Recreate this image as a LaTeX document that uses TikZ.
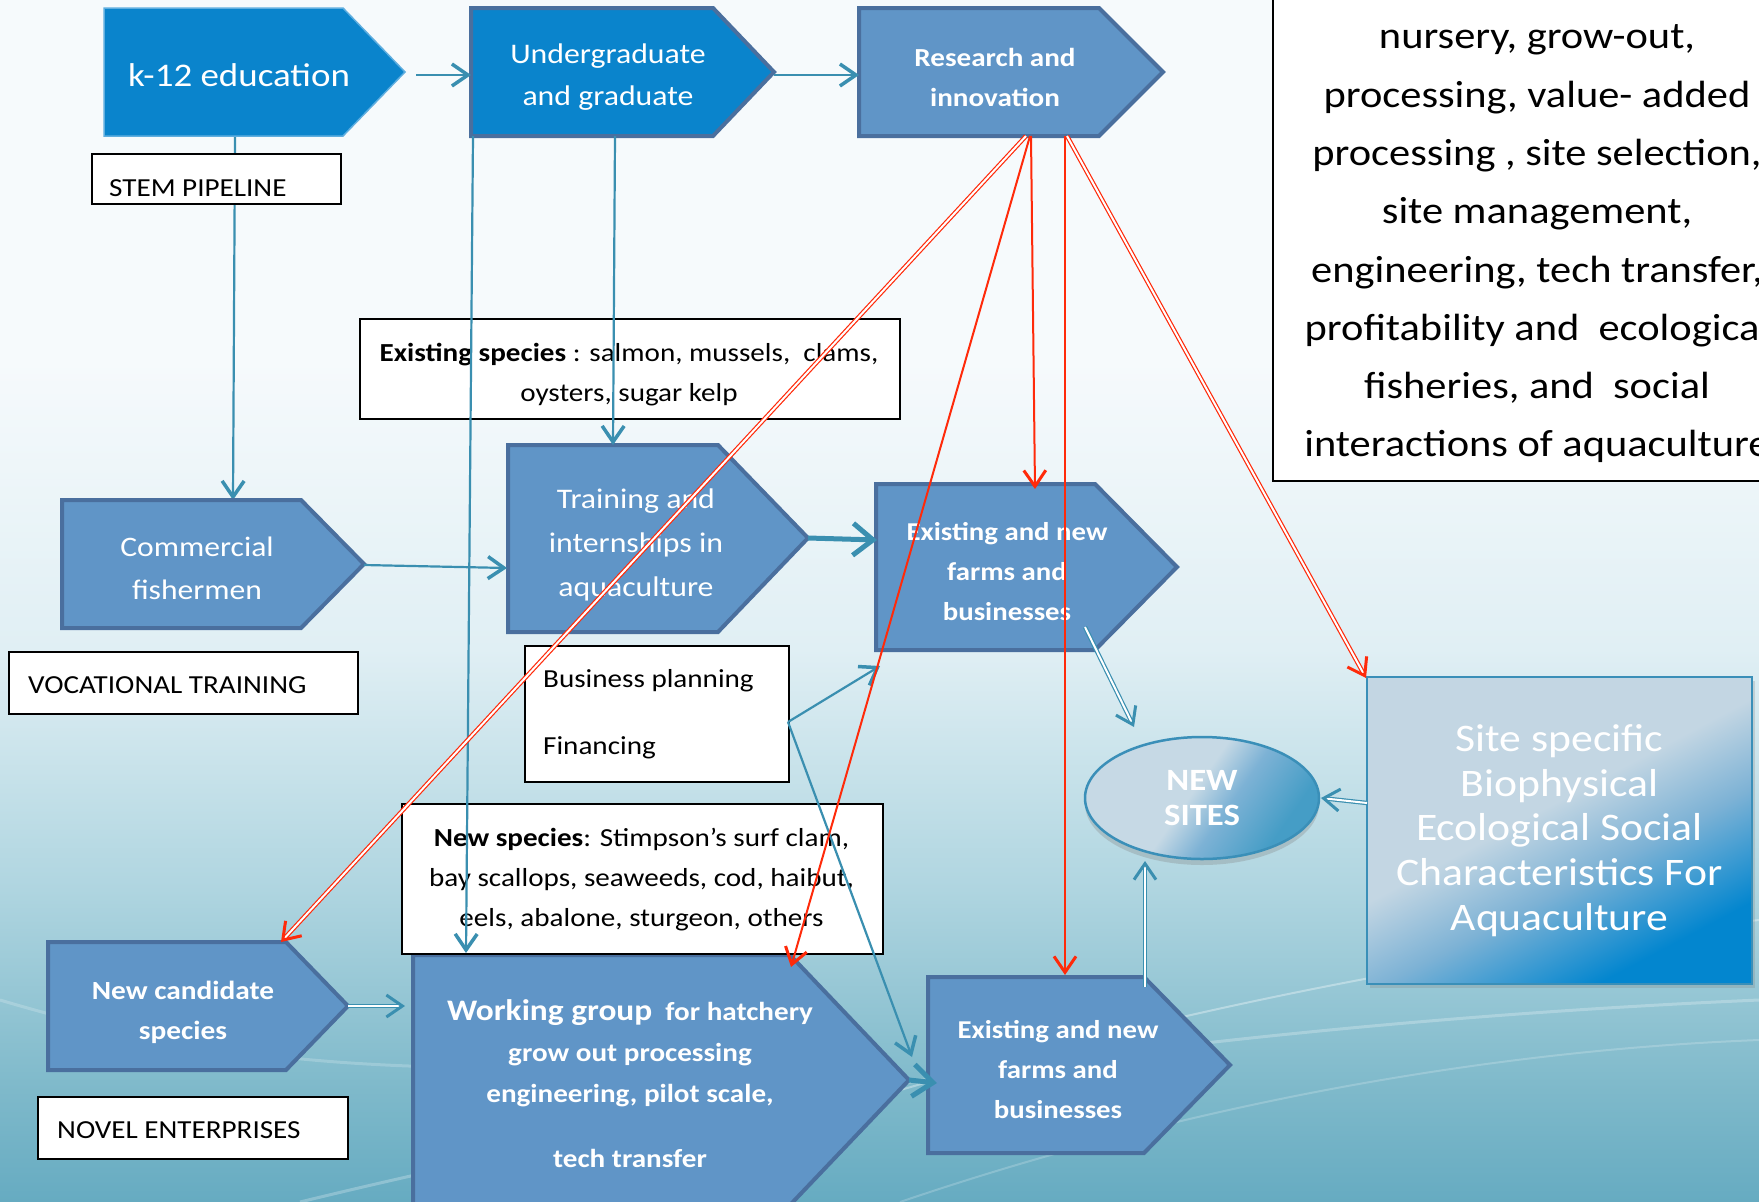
\documentclass[tikz,border=0pt]{standalone}
\usepackage{fontspec}
\setmainfont{Carlito}[FakeStretch=1.12]
\usetikzlibrary{arrows.meta,shadows,shapes.geometric}
\definecolor{kblue}{HTML}{0A84CC}
\definecolor{kedge}{HTML}{5FAEDF}
\definecolor{mblue}{HTML}{6095C7}
\definecolor{eblue}{HTML}{4A6F9E}
\definecolor{lnteal}{HTML}{3A8FB0}
\definecolor{lnred}{HTML}{FF2A0A}
\definecolor{bgA}{HTML}{F6FAFC}
\definecolor{bgB}{HTML}{E0EFF4}
\definecolor{bgC}{HTML}{AFD5E0}
\definecolor{bgC2}{HTML}{80BACB}
\definecolor{bgD}{HTML}{66ABC1}
\definecolor{siteL}{HTML}{C3D6E3}
\definecolor{siteM}{HTML}{7DB2D5}
\definecolor{siteR}{HTML}{0386CF}
\definecolor{ellL}{HTML}{C6D9E5}
\definecolor{ellR}{HTML}{459DC6}
\definecolor{ellE}{HTML}{3A8FB8}
\pgfdeclareverticalshading{bgshade}{100bp}{color(0bp)=(bgD); color(25bp)=(bgD); color(30bp)=(bgC2); color(38bp)=(bgC); color(48bp)=(bgB); color(60bp)=(bgA); color(100bp)=(bgA)}
\pgfdeclarehorizontalshading{sitegrad}{100bp}{color(0bp)=(siteL); color(46bp)=(siteL); color(58bp)=(siteM); color(73bp)=(siteR); color(100bp)=(siteR)}
\pgfdeclarehorizontalshading{ellgrad}{100bp}{color(0bp)=(ellL); color(47bp)=(ellL); color(57bp)=(siteM); color(72bp)=(ellR); color(100bp)=(ellR)}
\begin{document}
\begin{tikzpicture}[x=1pt,y=-1pt,
  plateK/.style={fill=kblue, draw=kedge, line width=1.5pt, line join=miter},
  plateU/.style={fill=kblue, draw=eblue, line width=4pt, line join=miter},
  plateM/.style={fill=mblue, draw=eblue, line width=4pt, line join=miter},
  wbox/.style={fill=white, draw=black, line width=2pt, inner sep=0pt, anchor=north west},
  ptxt/.style={text=white, align=center, inner sep=0pt},
  ltxt/.style={text=black, inner sep=0pt, anchor=west, font=\fontsize{26}{30}\selectfont},
  ctxt/.style={text=black, align=center, inner sep=0pt, font=\fontsize{26}{40}\selectfont},
  tarrow/.style={draw=lnteal, line width=2.2pt, -{Straight Barb[length=16pt,width=22pt,line width=3.5pt]}},
  tbig/.style={draw=lnteal, line width=5pt, -{Straight Barb[length=20pt,width=32pt,line width=5pt]}},
  tdouble/.style={draw=lnteal, double=white, double distance=2pt, line width=1.2pt, -{Straight Barb[length=16pt,width=22pt,line width=3pt]}},
  rarrow/.style={draw=lnred, line width=2pt, -{Straight Barb[length=16pt,width=22pt,line width=3pt]}},
  rdouble/.style={draw=lnred, double=white, double distance=2pt, line width=1.2pt, -{Straight Barb[length=16pt,width=22pt,line width=3pt]}}
]
\useasboundingbox (0,0) rectangle (1759,1202);
\begin{scope}
\clip (0,0) rectangle (1759,1202);
% background
\shade[shading=bgshade] (0,0) rectangle (1759,1202);
\draw[white, opacity=0.35, line width=2pt] (560,1202) .. controls (1000,1040) and (1400,960) .. (1759,920);
\draw[white, opacity=0.25, line width=3pt] (300,1202) .. controls (800,1080) and (1300,1020) .. (1759,1000);
\draw[white, opacity=0.2, line width=2pt] (900,1202) .. controls (1200,1100) and (1500,1050) .. (1759,1040);
\draw[white, opacity=0.2, line width=3pt] (0,1000) .. controls (200,1060) and (400,1080) .. (700,1060);

% connection points
\coordinate (k12-r) at (416,75);
\coordinate (ug-l) at (471,75);
\coordinate (ug-r) at (774,75);
\coordinate (rni-l) at (859,75);
\coordinate (k12-b) at (235,136);
\coordinate (cf-t) at (233,500);
\coordinate (ug-b1) at (473,136);
\coordinate (wg-t1) at (466,953);
\coordinate (ug-b2) at (615,136);
\coordinate (trn-t) at (613,445);
\coordinate (cf-r) at (364,565);
\coordinate (trn-l) at (507,568);
\coordinate (trn-r) at (808,538);
\coordinate (farmsA-l) at (877,540);
\coordinate (bus-r) at (788,722);
\coordinate (farmsA-bl) at (880,666);
\coordinate (farmsB-l1) at (912,1057);
\coordinate (wg-r) at (909,1080);
\coordinate (farmsB-l) at (937,1083);
\coordinate (ncs-r) at (348,1006);
\coordinate (wg-l) at (405,1006);
\coordinate (farmsA-br) at (1085,627);
\coordinate (sites-nw) at (1134,727);
\coordinate (site-l) at (1367,803);
\coordinate (sites-e) at (1321,798);
\coordinate (farmsB-t) at (1145,987);
\coordinate (sites-s) at (1145,861);
\coordinate (rni-b1) at (1026,136);
\coordinate (ncs-t) at (281,942);
\coordinate (rni-b2) at (1030,136);
\coordinate (wg-t2) at (791,967);
\coordinate (rni-b3) at (1031,136);
\coordinate (farmsA-t) at (1035,489);
\coordinate (rni-b4) at (1065,136);
\coordinate (farmsB-t2) at (1065,975);
\coordinate (rni-b5) at (1067,136);
\coordinate (site-nw) at (1366,678);

% line hidden by STEM box
\draw[tarrow] (k12-b) -- (cf-t);

% pentagons
\path[plateK] (104,8) -- (343,8) -- (405,72) -- (343,136) -- (104,136) -- cycle;
\path[plateU] (471,8) -- (713,8) -- (774,72) -- (713,136) -- (471,136) -- cycle;
\path[plateM] (859,8) -- (1099,8) -- (1163,72) -- (1099,136) -- (859,136) -- cycle;
\path[plateM] (62,500) -- (301,500) -- (364,564) -- (301,628) -- (62,628) -- cycle;
\path[plateM] (508,445) -- (718,445) -- (808,538) -- (718,632) -- (508,632) -- cycle;
\path[plateM] (876,484) -- (1095,484) -- (1177,567) -- (1095,650) -- (876,650) -- cycle;
\path[plateM] (48,942) -- (286,942) -- (348,1006) -- (286,1070) -- (48,1070) -- cycle;
\path[plateM] (413,955) -- (790,955) -- (909,1080) -- (790,1205) -- (413,1205) -- cycle;
\path[plateM] (928,977) -- (1144,977) -- (1230,1065) -- (1144,1153) -- (928,1153) -- cycle;

\node[ptxt, font=\fontsize{33}{40}\selectfont] (k12) at (239,75) {k-12 education};
\node[ptxt, font=\fontsize{28.4}{42}\selectfont] (ug) at (608,77) {Undergraduate\\and graduate};
\node[ptxt, font=\bfseries\fontsize{26}{40}\selectfont] (rni) at (995,77) {Research and\\innovation};
\node[ptxt, font=\fontsize{28.2}{43}\selectfont] (cf) at (197,568) {Commercial\\fishermen};
\node[ptxt, font=\fontsize{28.4}{44}\selectfont] (trn) at (636,545) {Training and\\internships in\\aquaculture};
\node[ptxt, font=\bfseries\fontsize{25.7}{40}\selectfont] (farmsA) at (1007,572) {Existing and new\\farms and\\businesses};
\node[ptxt, font=\bfseries\fontsize{25.7}{40}\selectfont] (farmsB) at (1058,1070) {Existing and new\\farms and\\businesses};
\node[ptxt, font=\bfseries\fontsize{26.2}{40}\selectfont] (ncs) at (183,1012) {New candidate\\species};
\node[ptxt, font=\bfseries\fontsize{26}{41}\selectfont] (wg) at (630,1084) {{\fontsize{29.8}{41}\selectfont Working group}\ \ for hatchery\\grow out processing\\engineering, pilot scale,\\[24pt]tech transfer};

% white boxes
\node[wbox, minimum width=249pt, minimum height=50pt] (stem) at (91,153) {};
\node[ltxt] (stemtxt) at (109,188) {STEM PIPELINE};
\node[wbox, minimum width=540pt, minimum height=100pt] (exsp) at (359,318) {};
\node[ctxt] (exsptxt) at (629,375) {\textbf{Existing species} : salmon, mussels,\ \ clams,\\oysters, sugar kelp};
\node[wbox, minimum width=349pt, minimum height=62pt] (voc) at (8,651) {};
\node[ltxt] (voctxt) at (28,685) {VOCATIONAL TRAINING};
\node[wbox, minimum width=264pt, minimum height=136pt] (bus) at (524,645) {};
\node[ltxt] (bus1) at (543,681) {Business planning};
\node[ltxt] (bus2) at (543,748) {Financing};
\node[wbox, minimum width=481pt, minimum height=150pt] (newsp) at (401,803) {};
\node[ctxt] (newsptxt) at (641.5,880) {\textbf{New species}: Stimpson’s surf clam,\\bay scallops, seaweeds, cod, haibut,\\eels, abalone, sturgeon, others};
\node[wbox, minimum width=310pt, minimum height=62pt] (novel) at (37,1096) {};
\node[ltxt] (noveltxt) at (57,1130) {NOVEL ENTERPRISES};
\node[wbox, minimum width=540pt, minimum height=486pt] (notes) at (1272,-6) {};
\node[text=black, align=center, inner sep=0pt, font=\fontsize{37.9}{58.3}\selectfont] (notestxt) at (1537,244) {nursery, grow-out,\\processing, value- added\\processing , site selection,\\site management,\\engineering, tech transfer,\\profitability and\ \ ecological\\fisheries, and\ \ social\\interactions of aquaculture};

% site box and ellipse
\node[draw=ellE, line width=2pt, shade, shading=sitegrad, shading angle=-62, minimum width=385pt, minimum height=307pt, inner sep=0pt,
  drop shadow={opacity=0.25, shadow xshift=3pt, shadow yshift=-4pt},
  text=white, align=center, font=\fontsize{39}{44.8}\selectfont] (site) at (1559.5,830.5) {Site specific\\Biophysical\\Ecological Social\\Characteristics For\\Aquaculture};
\node[ellipse, draw=ellE, line width=2.5pt, shade, shading=ellgrad, shading angle=-35, minimum width=234pt, minimum height=122pt, inner sep=0pt,
  drop shadow={opacity=0.3, shadow xshift=0pt, shadow yshift=-6pt},
  text=white, align=center, font=\bfseries\fontsize{31}{35}\selectfont] (sites) at (1202,798) {NEW\\SITES};

% teal connectors
\draw[tarrow] (k12-r) -- (ug-l);
\draw[tarrow] (ug-r) -- (rni-l);
\draw[tarrow] (ug-b1) -- (wg-t1);
\draw[tarrow] (ug-b2) -- (trn-t);
\draw[tarrow] (cf-r) -- (trn-l);
\draw[tbig] (trn-r) -- (farmsA-l);
\draw[tarrow] (bus-r) -- (farmsA-bl);
\draw[tarrow] (bus-r) -- (farmsB-l1);
\draw[tbig] (wg-r) -- (farmsB-l);
\draw[tdouble] (ncs-r) -- (wg-l);
\draw[tdouble] (farmsA-br) -- (sites-nw);
\draw[tdouble] (site-l) -- (sites-e);
\draw[tdouble] (farmsB-t) -- (sites-s);

% red connectors
\draw[rdouble] (rni-b1) -- (ncs-t);
\draw[rarrow] (rni-b2) -- (wg-t2);
\draw[rarrow] (rni-b3) -- (farmsA-t);
\draw[rarrow] (rni-b4) -- (farmsB-t2);
\draw[rdouble] (rni-b5) -- (site-nw);
\end{scope}
\end{tikzpicture}
\end{document}
